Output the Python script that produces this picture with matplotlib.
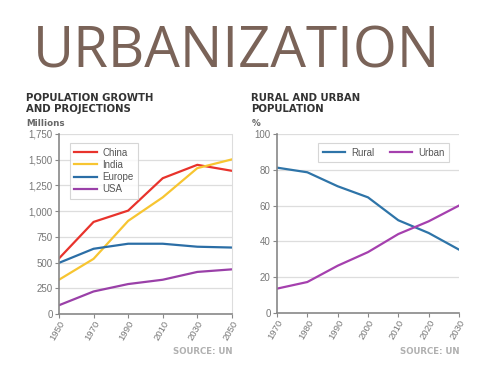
import matplotlib
matplotlib.use("Agg")
import matplotlib.pyplot as plt
from matplotlib.ticker import FuncFormatter

years_left = [1950, 1970, 1990, 2010, 2030, 2050]
china = [540, 895, 1005, 1320, 1450, 1392]
india = [333, 536, 905, 1134, 1418, 1503]
europe = [497, 634, 683, 683, 654, 646]
usa = [85, 219, 291, 333, 409, 434]

years_right = [1970, 1980, 1990, 2000, 2010, 2020, 2030]
rural = [81.2, 78.6, 70.8, 64.6, 51.8, 44.7, 35.4]
urban = [13.6, 17.3, 26.4, 34.0, 44.1, 51.2, 60.0]

plt.rcParams['font.family'] = ['Liberation Sans', 'DejaVu Sans']

fig = plt.figure(figsize=(4.94, 3.73), dpi=100)
fig.patch.set_facecolor('white')

fig.text(0.479, 1 - 68 / 373, "URBANIZATION", ha='center', va='baseline', fontsize=40.6,
         color='#7a6358', family='Open Sans')

GRAY = '#777777'
GRID = '#dddddd'

def style(ax):
    ax.grid(axis='y', color=GRID, lw=0.9)
    ax.set_axisbelow(True)
    ax.spines['top'].set_visible(False)
    ax.spines['right'].set_color(GRID)
    ax.spines['left'].set_color('#888888')
    ax.spines['bottom'].set_color('#888888')
    ax.spines['left'].set_linewidth(1.2)
    ax.spines['bottom'].set_linewidth(1.2)
    ax.tick_params(axis='y', length=3, color='#888888', labelsize=7, labelcolor=GRAY, pad=1.5)
    ax.tick_params(axis='x', length=3, color='#888888', labelsize=6.8, labelcolor=GRAY,
                   labelrotation=60, pad=1)
    for lab in ax.get_xticklabels():
        lab.set_ha('right')
        lab.set_rotation_mode('anchor')

def header(x, line1, line2, unit, src_x):
    fig.text(x, 1 - 100.7 / 373, line1, ha='left', va='baseline', fontsize=7.3,
             fontweight='bold', color='#333333', family='DejaVu Sans')
    fig.text(x, 1 - 112.3 / 373, line2, ha='left', va='baseline', fontsize=7.3,
             fontweight='bold', color='#333333', family='DejaVu Sans')
    fig.text(x, 1 - 126.3 / 373, unit, ha='left', va='baseline', fontsize=6.3,
             fontweight='bold', color='#666666', family='DejaVu Sans')
    fig.text(src_x, 1 - 354 / 373, "SOURCE: UN", ha='right', va='baseline', fontsize=6.2,
             color='#b0b0b0', fontweight='bold', family='DejaVu Sans')

# Left chart
ax1 = fig.add_axes([0.1194, 0.1582, 0.350, 0.4826])
ax1.plot(years_left, china, color='#e8332c', lw=1.6, label='China')
ax1.plot(years_left, india, color='#f7c531', lw=1.6, label='India')
ax1.plot(years_left, europe, color='#2b6ea6', lw=1.6, label='Europe')
ax1.plot(years_left, usa, color='#9a40a8', lw=1.6, label='USA')
ax1.set_xlim(1950, 2050)
ax1.set_ylim(0, 1750)
ax1.set_xticks(years_left)
ax1.set_yticks([0, 250, 500, 750, 1000, 1250, 1500, 1750])
ax1.yaxis.set_major_formatter(FuncFormatter(lambda v, p: f"{int(v):,}"))
style(ax1)
leg1 = ax1.legend(loc='upper left', bbox_to_anchor=(0.035, 0.975), fontsize=7,
                  frameon=True, fancybox=False, edgecolor='#cccccc', handlelength=2.3,
                  labelspacing=0.22, borderpad=0.45, handletextpad=0.6)
for t in leg1.get_texts():
    t.set_color('#555555')
leg1.get_frame().set_linewidth(0.8)

header(0.053, "POPULATION GROWTH", "AND PROJECTIONS", "Millions", 0.470)

# Right chart
ax2 = fig.add_axes([0.5607, 0.1609, 0.3684, 0.4799])
ax2.plot(years_right, rural, color='#2e74a8', lw=1.6, label='Rural')
ax2.plot(years_right, urban, color='#a540ae', lw=1.6, label='Urban')
ax2.set_xlim(1970, 2030)
ax2.set_ylim(0, 100)
ax2.set_xticks(years_right)
ax2.set_yticks([0, 20, 40, 60, 80, 100])
style(ax2)
ax2.spines['right'].set_visible(False)
leg2 = ax2.legend(loc='upper right', bbox_to_anchor=(0.97, 0.975), ncol=2, fontsize=7,
                  frameon=True, fancybox=False, edgecolor='#cccccc', handlelength=2.3,
                  borderpad=0.45, handletextpad=0.6, columnspacing=1.6)
for t in leg2.get_texts():
    t.set_color('#555555')
leg2.get_frame().set_linewidth(0.8)

header(0.509, "RURAL AND URBAN", "POPULATION", "%", 0.930)

fig.savefig("out.png", dpi=100, facecolor='white')
